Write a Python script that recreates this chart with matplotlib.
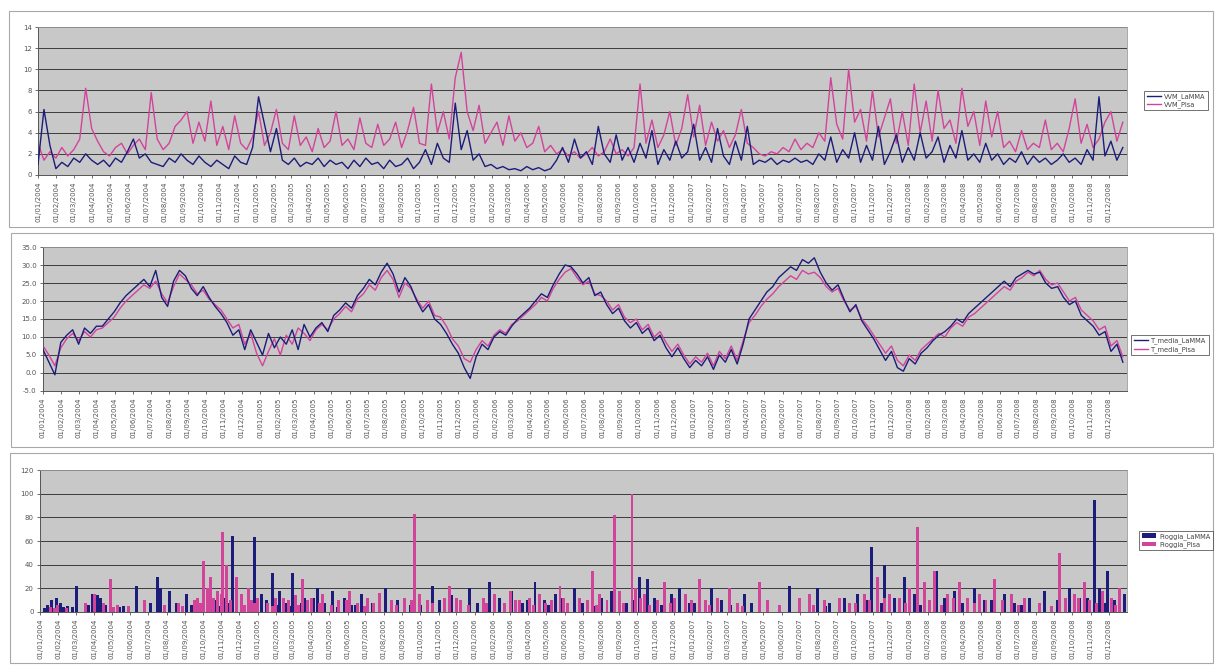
import numpy as np
import pandas as pd
import matplotlib
matplotlib.use("Agg")
import matplotlib.pyplot as plt
from matplotlib.patches import Rectangle

# ---------------------------------------------------------------- data
START = pd.Timestamp("2004-01-01")
END = pd.Timestamp("2008-12-31")
STEP_DAYS = 10  # one value every ten days

# mean wind speed (m/s)
wind_lamma = [
    1.0, 6.2, 2.8, 0.6, 1.2, 0.8, 1.6, 1.2, 2.0, 1.4,
    1.0, 1.4, 0.8, 1.6, 1.2, 2.2, 3.4, 1.6, 2.0, 1.2,
    1.0, 0.8, 1.6, 1.2, 2.0, 1.4, 1.0, 1.8, 1.2, 0.8,
    1.4, 1.0, 0.6, 1.8, 1.2, 1.0, 2.6, 7.4, 4.8, 2.2,
    4.4, 1.4, 1.0, 1.6, 0.8, 1.2, 1.0, 1.6, 0.8, 1.4,
    1.0, 1.2, 0.6, 1.4, 0.8, 1.6, 1.0, 1.2, 0.6, 1.4,
    0.8, 1.0, 1.6, 0.6, 1.2, 2.4, 1.0, 3.0, 1.6, 1.2,
    6.8, 2.4, 4.2, 1.4, 2.0, 0.8, 1.0, 0.6, 0.8, 0.5,
    0.6, 0.4, 0.8, 0.5, 0.7, 0.4, 0.6, 1.4, 2.6, 1.2,
    3.4, 1.6, 2.2, 1.0, 4.6, 2.0, 1.2, 3.8, 1.4, 2.6,
    1.2, 3.0, 1.6, 4.2, 1.0, 2.4, 1.4, 3.2, 1.6, 2.2,
    4.8, 1.4, 2.6, 1.2, 4.4, 1.8, 1.0, 3.2, 1.4, 4.6,
    1.0, 1.4, 1.2, 1.6, 1.0, 1.4, 1.2, 1.6, 1.2, 1.4,
    1.0, 2.0, 1.4, 3.6, 1.2, 2.4, 1.6, 4.0, 1.2, 2.8,
    1.4, 4.6, 1.0, 2.2, 3.8, 1.2, 2.6, 1.4, 4.0, 1.6,
    2.2, 3.6, 1.2, 2.8, 1.6, 4.2, 1.4, 2.0, 1.2, 3.0,
    1.4, 2.0, 1.0, 1.6, 1.2, 2.2, 1.0, 1.8, 1.2, 1.6,
    1.0, 1.4, 2.0, 1.2, 1.6, 1.0, 2.4, 1.4, 7.4, 1.8,
    3.2, 1.4, 2.6,
]
wind_pisa = [
    3.0, 1.4, 2.2, 1.6, 2.6, 1.8, 2.4, 3.4, 8.2, 4.4,
    3.2, 2.2, 1.8, 2.6, 3.0, 2.0, 2.8, 3.4, 2.4, 7.8,
    3.4, 2.4, 3.0, 4.6, 5.2, 6.0, 3.0, 5.0, 3.2, 7.0,
    2.8, 4.6, 2.4, 5.6, 3.0, 2.4, 3.6, 6.0, 2.8, 4.0,
    6.2, 3.0, 2.4, 5.6, 2.8, 3.6, 2.2, 4.4, 2.6, 3.2,
    6.0, 2.8, 3.4, 2.4, 5.4, 3.0, 2.6, 4.8, 2.8, 3.4,
    5.0, 2.6, 4.2, 6.4, 3.0, 2.8, 8.6, 4.0, 6.0, 3.4,
    9.2, 11.6, 6.0, 4.2, 6.6, 3.0, 4.0, 5.0, 2.8, 5.6,
    3.2, 4.0, 2.6, 3.0, 4.6, 2.2, 2.8, 2.0, 2.4, 1.8,
    2.2, 1.6, 2.0, 2.6, 1.8, 2.2, 3.4, 2.0, 2.4, 1.8,
    2.6, 8.6, 3.0, 5.2, 2.6, 3.8, 6.0, 2.8, 4.4, 7.6,
    3.6, 6.6, 2.8, 5.0, 3.2, 4.2, 2.6, 3.8, 6.2, 3.0,
    2.6, 2.0, 1.8, 2.2, 2.0, 2.6, 2.2, 3.4, 2.4, 3.0,
    2.6, 4.0, 3.2, 9.2, 4.8, 3.4, 10.0, 5.0, 6.2, 3.2,
    8.0, 3.6, 5.4, 7.2, 3.0, 6.0, 2.8, 8.6, 4.0, 7.0,
    3.2, 8.0, 4.4, 5.2, 3.0, 8.2, 4.6, 6.0, 2.8, 7.0,
    3.6, 6.0, 2.6, 3.2, 2.2, 4.2, 2.4, 3.0, 2.6, 5.2,
    2.4, 3.0, 2.2, 4.4, 7.2, 3.0, 4.8, 2.6, 3.4, 5.0,
    6.0, 3.2, 5.0,
]

# mean daily temperature (degC)
temp_lamma = [
    6.5, 3.0, -0.5, 8.5, 10.5, 12.0, 8.0, 12.5, 11.0, 13.0,
    13.0, 15.0, 17.0, 19.5, 21.5, 23.0, 24.5, 26.0, 24.0, 28.5,
    21.0, 18.5, 25.5, 28.5, 27.0, 23.5, 21.5, 24.0, 21.0, 18.5,
    16.5, 14.0, 10.5, 12.0, 6.5, 12.0, 8.5, 5.0, 11.0, 7.0,
    10.0, 8.0, 12.0, 6.5, 13.5, 10.0, 12.5, 14.0, 11.5, 16.0,
    17.5, 19.5, 18.0, 21.5, 23.5, 26.0, 24.5, 28.0, 30.5, 27.5,
    22.5, 26.5, 24.0, 20.0, 17.0, 19.0, 15.0, 13.5, 11.0, 8.0,
    5.5, 1.5, -1.5, 4.5, 8.0, 6.5, 10.0, 11.5, 10.5, 13.0,
    15.0, 16.5, 18.0, 20.0, 22.0, 21.0, 24.5, 27.5, 30.0, 29.5,
    27.5, 25.0, 26.5, 21.5, 22.5, 19.0, 16.5, 18.0, 14.5, 12.5,
    14.0, 11.0, 12.5, 9.0, 10.5, 7.0, 4.5, 7.0, 4.0, 1.5,
    3.5, 2.0, 4.5, 1.0, 5.0, 3.0, 6.5, 2.5, 8.0, 15.0,
    17.5, 20.0, 22.5, 24.0, 26.5, 28.0, 29.5, 28.5, 31.5, 30.5,
    32.0, 28.0, 25.0, 23.0, 24.5, 20.5, 17.0, 19.0, 14.5, 12.0,
    9.5, 6.5, 3.5, 6.0, 1.5, 0.5, 4.0, 2.5, 5.5, 7.0,
    9.0, 10.5, 11.5, 13.0, 15.0, 14.0, 16.5, 18.0, 19.5, 21.0,
    22.5, 24.0, 25.5, 24.0, 26.5, 27.5, 28.5, 27.5, 28.0, 25.0,
    23.5, 24.0, 21.0, 19.0, 20.0, 16.0, 14.5, 13.0, 10.5, 11.5,
    6.0, 8.0, 3.0,
]
temp_pisa = [
    7.5, 5.0, 2.0, 7.0, 9.5, 11.0, 9.0, 11.5, 10.0, 12.0,
    12.5, 14.0, 15.5, 18.0, 20.0, 21.5, 23.0, 24.5, 23.5, 25.5,
    22.0, 19.5, 24.0, 27.5, 26.0, 24.5, 22.0, 23.0, 20.5, 19.0,
    17.5, 15.0, 12.5, 13.5, 8.0, 11.0, 5.5, 2.0, 6.0, 9.5,
    5.0, 10.5, 8.0, 12.5, 11.0, 9.0, 12.0, 13.5, 12.0, 15.0,
    16.5, 18.5, 17.0, 20.5, 22.0, 24.5, 23.0, 26.5, 28.5, 26.0,
    21.0, 25.0, 23.5, 20.5, 18.0, 20.0, 16.0, 15.5, 13.0, 9.5,
    7.5, 4.0, 3.0, 6.5, 9.0, 7.5, 10.5, 12.0, 11.0, 13.5,
    14.5, 16.0, 17.5, 19.0, 21.0, 20.0, 23.5, 26.0, 28.0, 29.0,
    26.5, 24.5, 25.5, 22.0, 21.5, 20.0, 17.5, 19.0, 15.5, 14.0,
    15.0, 12.0, 13.5, 10.0, 11.5, 8.5, 6.0, 8.0, 5.0, 2.5,
    4.5, 3.0, 5.5, 2.0, 6.0, 4.0, 7.5, 3.5, 9.0, 14.0,
    16.0, 18.5, 20.5, 22.0, 24.0, 25.5, 27.0, 26.0, 28.5, 27.5,
    28.0, 26.5, 24.0, 22.5, 23.5, 20.0, 17.5, 18.5, 15.0, 13.0,
    10.5, 8.0, 5.5, 7.5, 3.5, 2.0, 5.0, 3.5, 6.5, 8.0,
    9.5, 11.0, 10.0, 12.5, 14.0, 13.0, 15.5, 16.5, 18.0, 19.5,
    21.0, 22.5, 24.0, 23.0, 25.5, 26.5, 28.0, 27.0, 28.5, 26.0,
    24.5, 25.0, 22.5, 20.0, 21.0, 17.5, 16.0, 14.5, 12.0, 13.0,
    7.5, 9.0, 4.5,
]

# daily rainfall (mm): day of the series and amount
rain_lamma_day = [
    8, 13, 20, 27, 34, 40, 47, 55, 62, 81, 89, 96, 102, 110, 134, 140,
    163, 175, 185, 197, 202, 218, 230, 247, 255, 267, 285, 294, 300, 310,
    316, 324, 330, 344, 350, 355, 361, 373, 380, 391, 398, 403, 412, 420,
    425, 440, 445, 460, 467, 479, 492, 500, 512, 524, 530, 541, 558, 570,
    580, 590, 601, 622, 640, 659, 672, 692, 700, 722, 736, 745, 756, 773,
    780, 793, 811, 820, 832, 848, 855, 867, 875, 899, 912, 930, 944, 961,
    985, 1000, 1008, 1021, 1033, 1045, 1062, 1075, 1092, 1100, 1129, 1146,
    1160, 1184, 1196, 1260, 1307, 1320, 1327, 1352, 1374, 1390, 1398, 1408,
    1415, 1420, 1436, 1445, 1453, 1470, 1480, 1507, 1520, 1537, 1550, 1571,
    1588, 1600, 1621, 1638, 1650, 1663, 1688, 1700, 1710, 1730, 1747, 1760,
    1772, 1781, 1790, 1794, 1806, 1815, 1823,
]
rain_lamma_mm = [
    3, 6, 10, 12, 8, 4, 5, 4, 22, 6, 15, 14, 12, 6, 4, 5,
    22, 4, 8, 30, 20, 18, 8, 15, 6, 6, 10, 10, 5, 12,
    8, 64, 6, 5, 10, 4, 63, 15, 10, 33, 6, 18, 8, 5,
    33, 8, 12, 12, 20, 8, 18, 4, 12, 6, 6, 15, 8, 8,
    20, 5, 10, 6, 6, 22, 10, 14, 8, 20, 8, 5, 25, 12,
    6, 18, 8, 10, 25, 10, 6, 15, 12, 20, 8, 5, 12, 18,
    8, 10, 30, 28, 12, 6, 15, 20, 8, 8, 20, 10,
    6, 15, 8, 22, 20, 5, 8, 12, 15, 10, 55, 20,
    8, 40, 12, 12, 30, 15, 6, 35, 12, 18, 8, 20,
    10, 10, 15, 8, 6, 12, 18, 5, 10, 20, 12, 12,
    95, 20, 8, 35, 10, 6, 15,
]
rain_pisa_day = [
    17, 25, 30, 44, 76, 92, 106, 118, 124, 131, 148, 176, 210, 232, 240,
    260, 265, 270, 274, 281, 286, 292, 299, 305, 307, 314, 320, 331, 338,
    343, 350, 356, 360, 366, 383, 390, 396, 410, 417, 430, 435, 442, 450,
    457, 470, 474, 490, 501, 515, 521, 534, 545, 551, 560, 571, 591, 600,
    612, 625, 630, 638, 652, 660, 680, 689, 700, 706, 720, 746, 750, 764,
    781, 790, 800, 806, 823, 830, 840, 850, 860, 874, 880, 887, 907, 920,
    929, 935, 941, 953, 966, 974, 980, 995, 1001, 1010, 1016, 1025, 1038,
    1050, 1060, 1067, 1085, 1095, 1109, 1119, 1125, 1139, 1159, 1173, 1180,
    1210, 1223, 1243, 1277, 1294, 1300, 1319, 1344, 1361, 1370, 1386, 1395,
    1408, 1420, 1428, 1445, 1455, 1462, 1475, 1487, 1495, 1504, 1515, 1525,
    1535, 1546, 1559, 1570, 1579, 1590, 1604, 1618, 1633, 1645, 1655, 1680,
    1700, 1714, 1724, 1739, 1745, 1756, 1764, 1775, 1786, 1801, 1808, 1814,
]
rain_pisa_mm = [
    4, 3, 6, 3, 8, 15, 8, 28, 4, 6, 5, 10, 6, 8, 5,
    10, 12, 8, 43, 20, 30, 12, 18, 15, 68, 40, 10, 30, 15,
    6, 20, 10, 8, 12, 8, 5, 12, 12, 10, 14, 6, 28, 10,
    12, 8, 15, 6, 10, 10, 18, 8, 5, 12, 8, 16, 10, 6,
    12, 10, 83, 15, 10, 8, 12, 22, 12, 10, 6, 12, 8, 15,
    8, 18, 10, 10, 12, 6, 15, 8, 10, 22, 12, 8, 12, 10,
    35, 6, 15, 10, 82, 18, 8, 100, 20, 12, 15, 6, 10,
    25, 8, 12, 15, 10, 28, 10, 6, 12, 20, 8, 5,
    25, 10, 6, 12, 15, 6, 10, 12, 8, 8, 15, 10,
    30, 12, 15, 12, 8, 20, 72, 25, 10, 35, 6, 15,
    12, 25, 12, 8, 15, 10, 28, 10, 15, 6, 12, 8,
    5, 50, 12, 15, 12, 25, 10, 8, 18, 12, 6, 20,
]

wind_labels = ["VVM_LaMMA", "VVM_Pisa"]
temp_labels = ["T_media_LaMMA", "T_media_Pisa"]
rain_labels = ["Pioggia_LaMMA", "Pioggia_Pisa"]

wind_ticks = [0, 2, 4, 6, 8, 10, 12, 14]
temp_ticks = [-5, 0, 5, 10, 15, 20, 25, 30, 35]
rain_ticks = [0, 20, 40, 60, 80, 100, 120]

# ---------------------------------------------------------------- style
NAVY = "#1c1c7a"
PINK = "#d2449a"
PLOT_BG = "#c8c8c8"
GRID = "#3c3c3c"
TICK_TXT = "#555555"

W, H = 1216, 665
fig = plt.figure(figsize=(W / 100, H / 100), dpi=100)
fig.patch.set_facecolor("white")


def frac(x0, y0, x1, y1):
    """pixel box (top-left origin) -> figure fraction rect"""
    return [x0 / W, 1 - y1 / H, (x1 - x0) / W, (y1 - y0) / H]


# chart-area frames
for box in [(9, 11, 1213, 227), (11, 233, 1213, 447), (10, 453, 1213, 663)]:
    r = frac(*box)
    fig.add_artist(Rectangle((r[0], r[1]), r[2], r[3], transform=fig.transFigure,
                             fill=False, edgecolor="#a8a8a8", linewidth=0.8))

month_starts = pd.date_range(START, END, freq="MS")
tick_pos = (month_starts - START).days.values
tick_lab = month_starts.strftime("%d/%m/%Y")
span = (END - START).days + 1


def style_axes(ax, yticks, yfmt):
    ax.set_facecolor(PLOT_BG)
    ax.set_xlim(0, span)
    ax.set_ylim(yticks[0], yticks[-1])
    ax.set_yticks(yticks)
    ax.set_yticklabels([yfmt.format(v) for v in yticks])
    ax.yaxis.grid(True, color=GRID, linewidth=0.7)
    ax.set_axisbelow(True)
    ax.set_xticks(tick_pos)
    ax.set_xticklabels(tick_lab, rotation=90)
    ax.tick_params(axis="both", labelsize=5, colors=TICK_TXT, length=2.5,
                   width=0.6, pad=2)
    for s in ("top", "right"):
        ax.spines[s].set_color("#9a9a9a")
        ax.spines[s].set_linewidth(0.6)
    for s in ("left", "bottom"):
        ax.spines[s].set_color("#555555")
        ax.spines[s].set_linewidth(0.7)


def add_legend(handles, labels, box):
    r = frac(*box)
    leg = fig.legend(handles, labels, loc="center",
                     bbox_to_anchor=(r[0] + r[2] / 2, r[1] + r[3] / 2),
                     bbox_transform=fig.transFigure, fontsize=4.8,
                     frameon=True, fancybox=False, borderpad=0.35,
                     handlelength=2.2, handletextpad=0.4, labelspacing=0.25,
                     borderaxespad=0)
    leg.get_frame().set_edgecolor("#333333")
    leg.get_frame().set_linewidth(0.6)
    for t in leg.get_texts():
        t.set_color("#444444")
    return leg


# ---------------------------------------------------------------- wind
ax1 = fig.add_axes(frac(38, 27, 1127, 175))
x_s = np.arange(len(wind_pisa)) * STEP_DAYS
l1, = ax1.plot(x_s, wind_lamma, color=NAVY, linewidth=1.0, zorder=3)
l2, = ax1.plot(x_s, wind_pisa, color=PINK, linewidth=1.0, zorder=2)
style_axes(ax1, wind_ticks, "{:d}")
add_legend([l1, l2], wind_labels, (1140, 86, 1212, 115))

# ---------------------------------------------------------------- temperature
ax2 = fig.add_axes(frac(43, 247, 1127, 391))
x_t = np.arange(len(temp_pisa)) * STEP_DAYS
t2, = ax2.plot(x_t, temp_pisa, color=PINK, linewidth=1.0, zorder=2)
t1, = ax2.plot(x_t, temp_lamma, color=NAVY, linewidth=1.0, zorder=3)
style_axes(ax2, temp_ticks, "{:.1f}")
add_legend([t1, t2], temp_labels, (1128, 332, 1212, 358))

# ---------------------------------------------------------------- rainfall
ax3 = fig.add_axes(frac(40, 470, 1127, 612))
b1 = ax3.bar(rain_lamma_day, rain_lamma_mm, width=5.0, color=NAVY,
             linewidth=0, zorder=3)
b2 = ax3.bar(rain_pisa_day, rain_pisa_mm, width=5.0, color=PINK,
             linewidth=0, zorder=3)
style_axes(ax3, rain_ticks, "{:d}")
add_legend([b1, b2], rain_labels, (1140, 526, 1212, 555))

fig.savefig("out.png", dpi=100, facecolor="white")
